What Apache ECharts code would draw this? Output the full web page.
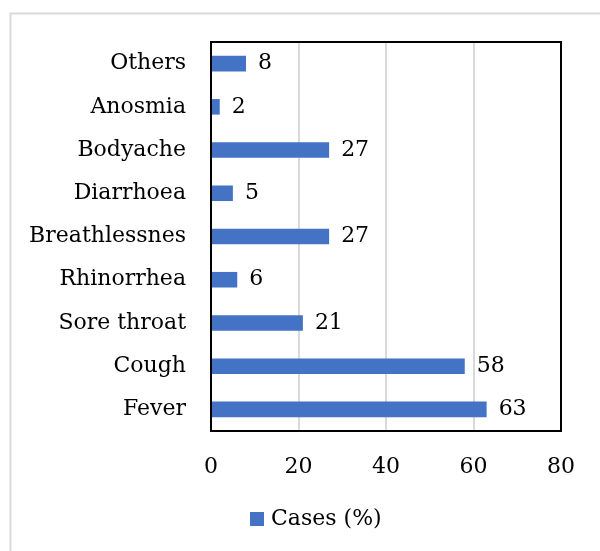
<!DOCTYPE html>
<html>
<head>
<meta charset="utf-8">
<script src="https://cdn.jsdelivr.net/npm/echarts@6/dist/echarts.min.js"></script>
<style>
  html, body { margin: 0; padding: 0; background: #fff; }
  #chart { width: 600px; height: 551px; }
</style>
</head>
<body>
<div id="chart"></div>
<script>
// 症状类别（自下而上）
const symptoms = ['Fever', 'Cough', 'Sore throat', 'Rhinorrhea', 'Breathlessnes', 'Diarrhoea', 'Bodyache', 'Anosmia', 'Others'];
// 病例百分比
const casesPct = [63, 58, 21, 6, 27, 5, 27, 2, 8];
const seriesName = 'Cases (%)';

const FONT = 'DejaVu Serif';
const FONT_SIZE = 22;
const chart = echarts.init(document.getElementById('chart'), null, { renderer: 'canvas' });

chart.setOption({
  animation: false,
  backgroundColor: '#fff',
  textStyle: { fontFamily: FONT },
  graphic: [
    // 外框（浅灰）
    {
      type: 'rect',
      shape: { x: 10.5, y: 13.5, width: 620, height: 560 },
      style: { fill: 'none', stroke: '#d9d9d9', lineWidth: 2 },
      silent: true
    },
    // 绘图区黑色边框
    {
      type: 'rect',
      shape: { x: 211, y: 42, width: 350, height: 389 },
      style: { fill: 'none', stroke: '#000', lineWidth: 2 },
      silent: true,
      z: 100
    }
  ],
  grid: {
    left: 211,
    right: 39,
    top: 42,
    bottom: 120
  },
  legend: {
    bottom: 16,
    left: 245,
    itemWidth: 14,
    itemHeight: 14,
    itemGap: 8,
    icon: 'rect',
    textStyle: { fontFamily: FONT, fontSize: FONT_SIZE, color: '#000', padding: [0, 0, 0, 2] },
    data: [seriesName]
  },
  xAxis: {
    type: 'value',
    min: 0,
    max: 80,
    interval: 20,
    axisLine: { show: false },
    axisTick: { show: false },
    axisLabel: { fontFamily: FONT, fontSize: FONT_SIZE, color: '#000', margin: 25 },
    splitLine: { show: true, showMinLine: false, showMaxLine: false, lineStyle: { color: '#d9d9d9', width: 2 } }
  },
  yAxis: {
    type: 'category',
    data: symptoms,
    axisLine: { show: false },
    axisTick: { show: false },
    axisLabel: { fontFamily: FONT, fontSize: FONT_SIZE, color: '#000', margin: 25 }
  },
  series: [{
    name: seriesName,
    type: 'bar',
    data: casesPct,
    barWidth: '36%',
    itemStyle: { color: '#4472C4' },
    label: {
      show: true,
      position: 'right',
      distance: 12,
      fontFamily: FONT,
      fontSize: FONT_SIZE,
      color: '#000'
    }
  }]
});
</script>
</body>
</html>
